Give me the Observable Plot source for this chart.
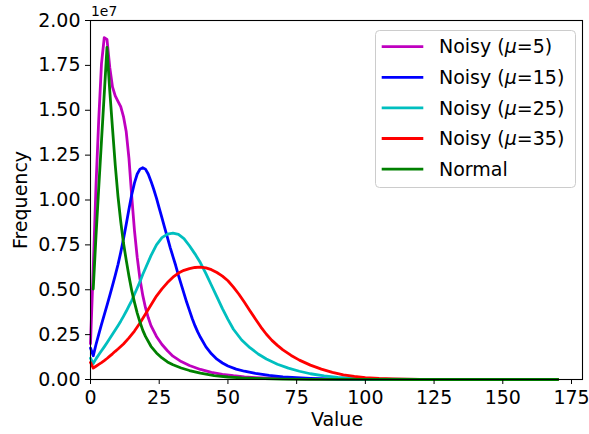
<!DOCTYPE html>
<html>
<head>
<meta charset="utf-8">
<script src="https://cdn.jsdelivr.net/npm/d3@7"></script>
<script src="https://cdn.jsdelivr.net/npm/@observablehq/plot@0.6"></script>
<style>
  body { margin: 0; background: #fff; }
</style>
</head>
<body>
<div id="chart"></div>
<script>
// Tick positions
const valueTicks = [0, 25, 50, 75, 100, 125, 150, 175];
const freqTicks = [0, 0.25, 0.5, 0.75, 1, 1.25, 1.5, 1.75, 2];

// Frequency per value, in units of 1e7: [value, frequency]
const noisy5 = [
  [0, 0.20], [1, 0.62], [2, 1.08], [3, 1.45], [4, 1.76], [5, 1.905], [6, 1.895],
  [7, 1.74], [8, 1.63], [9, 1.58], [10, 1.55], [11, 1.52], [12, 1.465], [13, 1.38],
  [14, 1.23], [15, 1.02], [16, 0.83], [17, 0.68], [18, 0.56], [19, 0.47], [20, 0.40],
  [21, 0.345], [22, 0.30], [24, 0.24], [26, 0.195], [28, 0.16], [30, 0.13], [33, 0.10],
  [36, 0.078], [40, 0.056], [44, 0.04], [48, 0.029], [52, 0.021], [56, 0.015],
  [60, 0.011], [65, 0.007], [70, 0.0045], [80, 0.002], [90, 0.001], [100, 0.0005],
  [120, 0.0001], [140, 0], [170, 0]
];
const noisy15 = [
  [0, 0.175], [1, 0.132], [2, 0.195], [3, 0.252], [4, 0.307], [5, 0.36], [6, 0.413],
  [7, 0.467], [8, 0.523], [9, 0.58], [10, 0.64], [11, 0.708], [12, 0.783], [13, 0.865],
  [14, 0.95], [15, 1.03], [16, 1.095], [17, 1.145], [18, 1.172], [19, 1.18], [20, 1.172],
  [21, 1.145], [22, 1.105], [23, 1.06], [24, 1.01], [25, 0.955], [26, 0.90], [27, 0.845],
  [28, 0.79], [29, 0.735], [30, 0.685], [31, 0.635], [32, 0.58], [33, 0.53], [34, 0.48],
  [35, 0.43], [36, 0.385], [37, 0.34], [38, 0.30], [39, 0.265], [40, 0.235], [42, 0.182],
  [44, 0.143], [46, 0.113], [48, 0.092], [50, 0.075], [53, 0.058], [56, 0.046],
  [60, 0.034], [65, 0.023], [70, 0.015], [75, 0.01], [80, 0.0065], [90, 0.0025],
  [100, 0.001], [120, 0.0002], [140, 0], [170, 0]
];
const noisy25 = [
  [0, 0.119], [1, 0.089], [2, 0.115], [3, 0.138], [4, 0.16], [5, 0.182], [6, 0.205],
  [7, 0.228], [8, 0.252], [9, 0.276], [10, 0.30], [11, 0.325], [12, 0.352], [13, 0.38],
  [14, 0.41], [15, 0.44], [16, 0.475], [17, 0.51], [18, 0.545], [19, 0.585], [20, 0.62],
  [22, 0.69], [24, 0.75], [26, 0.79], [28, 0.81], [30, 0.815], [32, 0.808], [34, 0.785],
  [36, 0.745], [38, 0.70], [40, 0.65], [42, 0.59], [44, 0.525], [46, 0.46], [48, 0.395],
  [50, 0.335], [52, 0.28], [55, 0.22], [58, 0.177], [61, 0.142], [64, 0.114], [68, 0.085],
  [72, 0.063], [76, 0.046], [80, 0.032], [85, 0.02], [90, 0.012], [95, 0.007],
  [100, 0.004], [110, 0.0015], [120, 0.0005], [140, 0], [170, 0]
];
const noisy35 = [
  [0, 0.095], [1, 0.064], [2, 0.074], [3, 0.084], [4, 0.094], [5, 0.105], [6, 0.117],
  [7, 0.13], [8, 0.143], [9, 0.157], [10, 0.17], [12, 0.198], [14, 0.232], [16, 0.27],
  [18, 0.315], [20, 0.365], [22, 0.415], [24, 0.465], [26, 0.505], [28, 0.54], [30, 0.57],
  [32, 0.593], [34, 0.608], [36, 0.618], [38, 0.624], [40, 0.626], [42, 0.622], [44, 0.612],
  [46, 0.596], [48, 0.576], [50, 0.55], [52, 0.515], [54, 0.475], [56, 0.43], [58, 0.383],
  [60, 0.337], [62, 0.292], [64, 0.252], [66, 0.218], [68, 0.19], [70, 0.165], [73, 0.134],
  [76, 0.108], [80, 0.08], [84, 0.058], [88, 0.04], [92, 0.026], [96, 0.017], [100, 0.011],
  [105, 0.006], [110, 0.0032], [115, 0.0017], [120, 0.0009], [130, 0.0002], [140, 0], [170, 0]
];
const normal = [
  [1, 0.504], [2, 0.80], [3, 1.07], [4, 1.33], [5, 1.59], [6, 1.85], [7, 1.61], [8, 1.40],
  [9, 1.195], [10, 1.02], [11, 0.88], [12, 0.76], [13, 0.665], [14, 0.575], [15, 0.495],
  [16, 0.43], [17, 0.37], [18, 0.32], [19, 0.275], [20, 0.24], [22, 0.185], [24, 0.148],
  [26, 0.12], [28, 0.098], [30, 0.082], [33, 0.064], [36, 0.05], [40, 0.035], [45, 0.022],
  [50, 0.014], [55, 0.009], [60, 0.006], [70, 0.0025], [80, 0.001], [100, 0.0002],
  [120, 0], [170, 0]
];

const seriesNames = ["Noisy (μ=5)", "Noisy (μ=15)", "Noisy (μ=25)", "Noisy (μ=35)", "Normal"];
const seriesColors = ["#bf00bf", "#0000ff", "#00bfbf", "#ff0000", "#008000"];
const seriesPoints = [noisy5, noisy15, noisy25, noisy35, normal];

const rows = seriesPoints.flatMap((pts, i) =>
  pts.map(([value, freq]) => ({series: seriesNames[i], value, freq}))
);

const font = "'DejaVu Sans', sans-serif";

const svg = Plot.plot({
  width: 589,
  height: 434,
  marginLeft: 90,
  marginRight: 7,
  marginTop: 20,
  marginBottom: 55,
  style: {fontFamily: font, fontSize: "19px", color: "#000", background: "#fff", overflow: "visible"},
  x: {domain: [0, 179], label: null},
  y: {domain: [0, 2], label: null},
  color: {domain: seriesNames, range: seriesColors},
  marks: [
    Plot.line(rows, {
      x: "value", y: "freq", z: "series", stroke: "series",
      strokeWidth: 2.8, strokeLinejoin: "round"
    }),
    Plot.frame({stroke: "#000", strokeWidth: 1.1}),
    Plot.axisX({ticks: valueTicks, tickSize: 5, tickPadding: 6, label: null, fontSize: 19}),
    Plot.axisY({ticks: freqTicks, tickSize: 5, tickPadding: 5, label: null, fontSize: 19,
      tickFormat: d => d.toFixed(2)})
  ]
});

document.getElementById("chart").appendChild(svg);

const root = d3.select(svg);

// axis titles and the exponent of the y scale
root.append("text")
  .attr("x", 337).attr("y", 426)
  .attr("text-anchor", "middle")
  .attr("font-family", font).attr("font-size", 19).attr("fill", "#000")
  .text("Value");
root.append("text")
  .attr("transform", "translate(27,200) rotate(-90)")
  .attr("text-anchor", "middle")
  .attr("font-family", font).attr("font-size", 19).attr("fill", "#000")
  .text("Frequency");
root.append("text")
  .attr("x", 91).attr("y", 16)
  .attr("text-anchor", "start")
  .attr("font-family", font).attr("font-size", 13.9).attr("fill", "#000")
  .text("1e7");

// legend box
const legend = root.append("g").attr("text-anchor", "start");
legend.append("rect")
  .attr("x", 375.5).attr("y", 30.5).attr("width", 200).attr("height", 157)
  .attr("rx", 4).attr("fill", "#fff").attr("fill-opacity", 0.8)
  .attr("stroke", "#cccccc").attr("stroke-width", 1);
seriesNames.forEach((name, i) => {
  const cy = 46.7 + i * 30.6;
  legend.append("line")
    .attr("x1", 381.7).attr("x2", 423.3).attr("y1", cy).attr("y2", cy)
    .attr("stroke", seriesColors[i]).attr("stroke-width", 2.8);
  const t = legend.append("text")
    .attr("x", 439).attr("y", cy + 6.7)
    .attr("text-anchor", "start")
    .attr("font-family", font).attr("font-size", 19).attr("fill", "#000");
  const m = name.match(/^(.*\()μ(.*)$/);
  if (m) {
    t.append("tspan").text(m[1]);
    t.append("tspan").attr("font-style", "italic").text("μ");
    t.append("tspan").text(m[2]);
  } else {
    t.text(name);
  }
});
</script>
</body>
</html>
